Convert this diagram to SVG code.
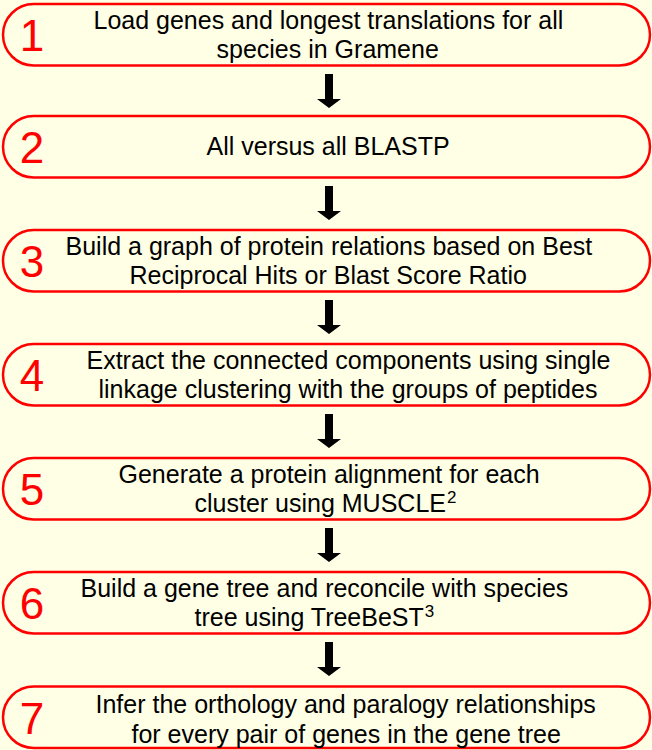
<svg xmlns="http://www.w3.org/2000/svg" width="652" height="750" viewBox="0 0 652 750">
  <defs>
    <style>
      .bg { fill: #FFFFE6; }
      .step rect { fill: #FFFFE6; stroke: #FF0000; stroke-width: 2.5; }
      .num { font-family: "Liberation Sans", Arial, sans-serif; font-size: 44px; fill: #FF0000; text-anchor: middle; }
      .lbl { font-family: "Liberation Sans", Arial, sans-serif; font-size: 25px; fill: #000000; }
      .sup { font-size: 17px; }
      .arrow { fill: #000000; }
    </style>
    <path id="down" d="M-4,0 H4 V25 H12 L0,34 L-12,25 H-4 Z"/>
  </defs>

  <rect class="bg" x="0" y="0" width="652" height="750"/>

  <!-- step boxes -->
  <g id="step1" class="step">
    <rect x="3" y="4" width="647" height="61.5" rx="30.75"/>
    <text class="num" x="32" y="51">1</text>
    <text class="lbl" x="93.5" y="28.5">Load genes and longest translations for all</text>
    <text class="lbl" x="216.5" y="58">species in Gramene</text>
  </g>

  <g id="step2" class="step">
    <rect x="3" y="116" width="647" height="61.5" rx="30.75"/>
    <text class="num" x="32" y="163">2</text>
    <text class="lbl" x="206.5" y="155">All versus all BLASTP</text>
  </g>

  <g id="step3" class="step">
    <rect x="3" y="230" width="647" height="61.5" rx="30.75"/>
    <text class="num" x="32" y="277">3</text>
    <text class="lbl" x="65.5" y="254.5">Build a graph of protein relations based on Best</text>
    <text class="lbl" x="129.5" y="284">Reciprocal Hits or Blast Score Ratio</text>
  </g>

  <g id="step4" class="step">
    <rect x="3" y="344" width="647" height="61.5" rx="30.75"/>
    <text class="num" x="32" y="391">4</text>
    <text class="lbl" x="86.5" y="368.5">Extract the connected components using single</text>
    <text class="lbl" x="98.5" y="398">linkage clustering with the groups of peptides</text>
  </g>

  <g id="step5" class="step">
    <rect x="3" y="458" width="647" height="61.5" rx="30.75"/>
    <text class="num" x="32" y="505">5</text>
    <text class="lbl" x="118.5" y="482.5">Generate a protein alignment for each</text>
    <text class="lbl" x="194.5" y="512">cluster using MUSCLE<tspan class="sup" dx="1" dy="-9">2</tspan></text>
  </g>

  <g id="step6" class="step">
    <rect x="3" y="572" width="647" height="61.5" rx="30.75"/>
    <text class="num" x="32" y="619">6</text>
    <text class="lbl" x="80.5" y="596.5">Build a gene tree and reconcile with species</text>
    <text class="lbl" x="194.5" y="626">tree using TreeBeST<tspan class="sup" dx="1" dy="-9">3</tspan></text>
  </g>

  <g id="step7" class="step">
    <rect x="3" y="686.5" width="647" height="61.5" rx="30.75"/>
    <text class="num" x="32" y="734">7</text>
    <text class="lbl" x="95.5" y="712.5">Infer the orthology and paralogy relationships</text>
    <text class="lbl" x="131.5" y="742.5">for every pair of genes in the gene tree</text>
  </g>

  <!-- connectors -->
  <g id="connectors" class="arrow">
    <use href="#down" x="329" y="74"/>
    <use href="#down" x="329" y="186"/>
    <use href="#down" x="329" y="300"/>
    <use href="#down" x="329" y="414"/>
    <use href="#down" x="329" y="528"/>
    <use href="#down" x="329" y="642"/>
  </g>
</svg>
